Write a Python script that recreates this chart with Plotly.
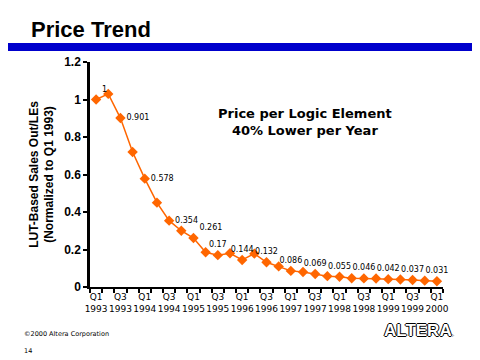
import plotly.graph_objects as go

quarters = [
    "Q1 1993", "Q2 1993", "Q3 1993", "Q4 1993",
    "Q1 1994", "Q2 1994", "Q3 1994", "Q4 1994",
    "Q1 1995", "Q2 1995", "Q3 1995", "Q4 1995",
    "Q1 1996", "Q2 1996", "Q3 1996", "Q4 1996",
    "Q1 1997", "Q2 1997", "Q3 1997", "Q4 1997",
    "Q1 1998", "Q2 1998", "Q3 1998", "Q4 1998",
    "Q1 1999", "Q2 1999", "Q3 1999", "Q4 1999",
    "Q1 2000",
]
tick_labels = [
    "Q1<br>1993", "", "Q3<br>1993", "",
    "Q1<br>1994", "", "Q3<br>1994", "",
    "Q1<br>1995", "", "Q3<br>1995", "",
    "Q1<br>1996", "", "Q3<br>1996", "",
    "Q1<br>1997", "", "Q3<br>1997", "",
    "Q1<br>1998", "", "Q3<br>1998", "",
    "Q1<br>1999", "", "Q3<br>1999", "",
    "Q1<br>2000",
]
values = [
    1.0, 1.03, 0.901, 0.72,
    0.578, 0.45, 0.354, 0.30,
    0.261, 0.185, 0.17, 0.18,
    0.144, 0.178, 0.132, 0.11,
    0.086, 0.08, 0.069, 0.058,
    0.055, 0.047, 0.046, 0.045,
    0.042, 0.04, 0.037, 0.034,
    0.031,
]
point_labels = [
    "1", "", "0.901", "",
    "0.578", "", "0.354", "",
    "0.261", "", "0.17", "",
    "0.144", "", "0.132", "",
    "0.086", "", "0.069", "",
    "0.055", "", "0.046", "",
    "0.042", "", "0.037", "",
    "0.031",
]
label_pos = [
    "top right", "top center", "middle right", "top center",
    "middle right", "top center", "middle right", "top center",
    "top right", "top center", "top center", "top center",
    "top center", "top center", "top center", "top center",
    "top center", "top center", "top center", "top center",
    "top center", "top center", "top center", "top center",
    "top center", "top center", "top center", "top center",
    "top center",
]

ORANGE = "#FF6600"
FONT = "DejaVu Sans"

# page has an 8px body margin: compensate so the screen positions match
OFF = 8
W, H = 480 - OFF, 360 - OFF
L, R, T, B = 90 - OFF, 480 - 443, 62 - OFF, 360 - 287
PW, PH = W - L - R, H - T - B


def px(x):
    return (x - OFF - L) / PW


def py(y):
    return (H - B - (y - OFF)) / PH


fig = go.Figure()
fig.add_trace(go.Scatter(
    x=quarters, y=values, mode="lines+markers+text",
    line=dict(color=ORANGE, width=1.5),
    marker=dict(symbol="diamond", size=8, color=ORANGE),
    text=point_labels, textposition=label_pos,
    textfont=dict(family=FONT, size=8, color="black"),
    cliponaxis=False, showlegend=False,
))

fig.update_layout(
    width=W, height=H,
    margin=dict(l=L, r=R, t=T, b=B),
    paper_bgcolor="white", plot_bgcolor="white",
    font=dict(family=FONT, color="black"),
    xaxis=dict(
        type="category", tickmode="array", tickvals=quarters, ticktext=tick_labels,
        tickson="boundaries", ticks="outside", ticklen=4, tickwidth=1.5,
        tickcolor="black", showline=True, linecolor="black", linewidth=2,
        showgrid=False, zeroline=False, range=[-0.5, 28.5],
        tickfont=dict(family=FONT, size=9, color="black"), tickangle=0,
    ),
    yaxis=dict(
        range=[0, 1.2], dtick=0.2, tick0=0, ticks="outside", ticklen=4, tickwidth=1.5,
        tickcolor="black", showline=True, linecolor="black", linewidth=2.5,
        showgrid=False, zeroline=False,
        tickfont=dict(family="Liberation Sans", size=12, color="black", weight="bold"),
        title=dict(text="LUT-Based Sales Out/LEs<br>(Normalized to Q1 1993)",
                   font=dict(family="Liberation Sans", size=12, color="black", weight="bold"),
                   standoff=8),
    ),
)

fig.add_shape(type="rect", xref="paper", yref="paper",
              x0=px(-5), x1=px(490), y0=py(51), y1=py(43),
              fillcolor="#0000CC", line=dict(width=0), layer="above")

fig.add_annotation(xref="paper", yref="paper", x=px(29), y=py(30),
                   xanchor="left", yanchor="middle", showarrow=False,
                   text="<b>Price Trend</b>",
                   font=dict(family="Liberation Sans", size=22, color="black"))

fig.add_annotation(xref="paper", yref="paper", x=px(305), y=py(122),
                   xanchor="center", yanchor="middle", showarrow=False,
                   text="<b>Price per Logic Element<br>40% Lower per Year</b>",
                   font=dict(family=FONT, size=13, color="black"))

fig.add_annotation(xref="paper", yref="paper", x=px(22), y=py(334),
                   xanchor="left", yanchor="middle", showarrow=False,
                   text="©2000 Altera Corporation",
                   font=dict(family=FONT, size=6.5, color="black"))
fig.add_annotation(xref="paper", yref="paper", x=px(22), y=py(351),
                   xanchor="left", yanchor="middle", showarrow=False,
                   text="14",
                   font=dict(family=FONT, size=6.5, color="black"))

fig.add_annotation(xref="paper", yref="paper", x=px(419), y=py(330),
                   xanchor="center", yanchor="middle", showarrow=False,
                   text="<b>ALTERA</b><span style='font-size:6px'>.</span>",
                   font=dict(family="Liberation Sans", size=17, color="white",
                             shadow="1px 0 0 #000, -1px 0 0 #000, 0 1px 0 #000, 0 -1px 0 #000"))

fig.write_html("out.html")
